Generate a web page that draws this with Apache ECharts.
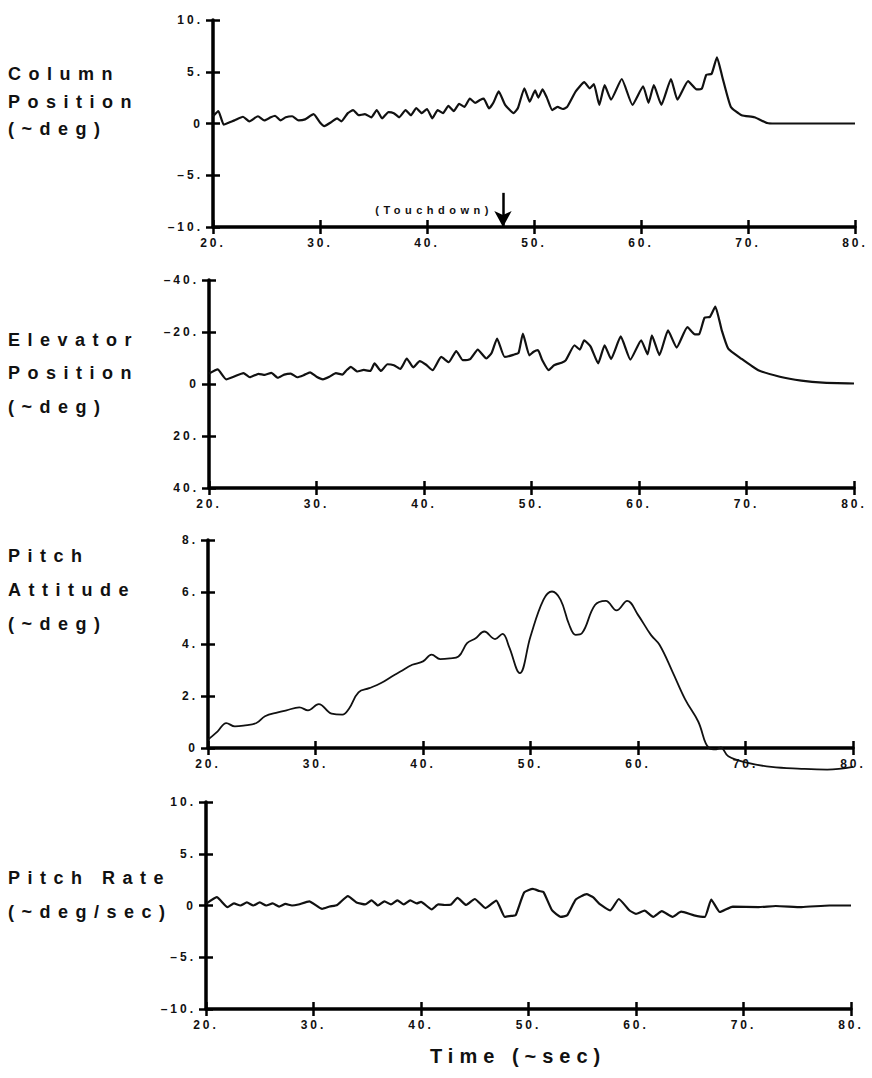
<!DOCTYPE html>
<html>
<head>
<meta charset="utf-8">
<script src="https://cdn.jsdelivr.net/npm/echarts@6/dist/echarts.min.js"></script>
<style>
html, body { margin: 0; padding: 0; background: #fff; }
#main { width: 872px; height: 1078px; }
#main text { letter-spacing: 3px; }
#main text[style*="18px"] { letter-spacing: 7.5px; }
#main text[style*="20px"] { letter-spacing: 6px; }
#main text[style*="11px"] { letter-spacing: 4.5px; }
</style>
</head>
<body>
<div id="main"></div>
<script>
// time axis
const xTicks = [20, 30, 40, 50, 60, 70, 80];
const xTickLabels = ['20.', '30.', '40.', '50.', '60.', '70.', '80.'];

// y tick values / labels per panel
const colTicks = [-10, -5, 0, 5, 10];
const colTickLabels = ['–10.', '–5.', '0', '5.', '10.'];
const elevTicks = [-40, -20, 0, 20, 40];
const elevTickLabels = ['–40.', '–20.', '0', '20.', '40.'];
const attTicks = [0, 2, 4, 6, 8];
const attTickLabels = ['0', '2.', '4.', '6.', '8.'];
const rateTicks = [-10, -5, 0, 5, 10];
const rateTickLabels = ['–10.', '–5.', '0', '5.', '10.'];

// [time sec, value]
const columnPos = [[20,0.7],[20.5,1.2],[21,-0.1],[21.5,0.1],[22,0.3],[22.8,0.65],[23.4,0.2],[24.2,0.7],[24.8,0.3],[25.4,0.6],[25.8,0.75],[26.3,0.3],[26.8,0.6],[27.4,0.7],[28,0.3],[28.6,0.4],[29.4,0.9],[30,0.1],[30.4,-0.25],[31,0.1],[31.6,0.5],[32,0.2],[32.6,1.0],[33.1,1.3],[33.6,0.8],[34.2,0.9],[34.8,0.6],[35.3,1.3],[35.8,0.5],[36.4,1.1],[36.9,1.0],[37.4,0.6],[38,1.3],[38.5,0.8],[39,1.5],[39.5,1.0],[40,1.4],[40.5,0.5],[41,1.3],[41.5,1.0],[42,1.7],[42.5,1.2],[43,1.9],[43.5,1.6],[44,2.4],[44.5,2.0],[45,2.3],[45.3,2.4],[45.8,1.45],[46.2,2.0],[46.7,3.1],[47.3,1.8],[48.1,1.0],[48.5,1.5],[49.1,3.4],[49.6,2.1],[50.1,3.2],[50.4,2.5],[50.8,3.3],[51.2,2.5],[51.7,1.3],[52.2,1.6],[52.7,1.4],[53.1,1.6],[53.9,3.1],[54.7,4.0],[55.2,3.4],[55.6,3.8],[56.1,1.8],[56.6,3.7],[57.2,2.3],[58.2,4.3],[59.2,1.8],[60.2,3.6],[60.7,2.0],[61.2,3.7],[61.9,1.8],[62.8,4.3],[63.4,2.3],[64.4,4.1],[65.2,3.3],[65.7,3.4],[66.1,4.7],[66.6,4.8],[67.1,6.4],[67.6,4.5],[68.4,1.6],[69.4,0.8],[70.6,0.6],[71.8,0.05],[72.5,0],[80,0]];

const elevatorPos = [[20,-4],[20.8,-5.6],[21.6,-1.8],[22.4,-3.0],[23.2,-4.2],[23.8,-2.6],[24.6,-3.9],[25.2,-3.5],[25.8,-4.3],[26.4,-2.4],[27,-3.6],[27.6,-4.0],[28.2,-2.6],[28.8,-3.4],[29.4,-4.5],[30,-2.8],[30.6,-1.8],[31.2,-2.8],[31.8,-4.2],[32.4,-3.6],[32.8,-5.3],[33.2,-6.6],[33.8,-4.8],[34.4,-5.4],[35,-5.0],[35.4,-7.9],[36,-5.0],[36.6,-7.6],[37.2,-7.2],[37.8,-5.8],[38.4,-9.8],[39,-6.4],[39.6,-8.8],[40.2,-7.4],[40.8,-5.3],[41.6,-10.4],[42.3,-8.4],[43,-12.7],[43.6,-9.2],[44.3,-9.6],[45,-13.2],[45.8,-9.8],[46.3,-12],[46.8,-17.5],[47.5,-10.4],[48.3,-11.2],[48.8,-12.0],[49.2,-19.4],[49.8,-11],[50.2,-12.4],[50.6,-13],[51,-9.2],[51.6,-5.3],[52.1,-7.2],[52.8,-8.2],[53.2,-9.2],[54,-14.9],[54.5,-13.2],[54.9,-16.8],[55.5,-14.4],[56.2,-7.9],[56.8,-14.9],[57.4,-9.6],[58.3,-18.3],[59.2,-9.4],[60.2,-16.8],[60.8,-11.4],[61.2,-18.7],[61.9,-11.1],[62.7,-20.6],[63.5,-14],[64.5,-21.9],[65.2,-19.1],[65.6,-19.2],[66.1,-25.5],[66.6,-25.8],[67.1,-29.8],[67.7,-20.6],[68.3,-13.6],[69.5,-9.8],[71.1,-5.3],[73.1,-2.8],[75.1,-1.3],[77.1,-0.5],[80,-0.2]];

const pitchAtt = [[20,0.32],[20.9,0.64],[21.7,0.96],[22.5,0.83],[23.3,0.86],[24.5,0.96],[25.3,1.22],[26.5,1.37],[27.3,1.45],[28.5,1.56],[29.3,1.45],[30.3,1.69],[31.5,1.32],[32.5,1.28],[33.1,1.5],[34,2.14],[35,2.3],[36.1,2.5],[37.1,2.75],[37.9,2.94],[39,3.2],[40,3.33],[40.8,3.59],[41.6,3.42],[42.5,3.45],[43.3,3.52],[44.1,4.03],[44.9,4.22],[45.7,4.48],[46.7,4.19],[47.4,4.39],[48,3.9],[49,2.88],[50,4.29],[51.2,5.7],[52,6.02],[52.8,5.7],[53.6,4.74],[54.2,4.35],[54.8,4.42],[56,5.5],[57,5.66],[58,5.29],[59,5.66],[60,5.12],[61.2,4.35],[62,3.97],[63.2,2.94],[64.4,1.86],[65.6,1.02],[66.6,0],[67.3,-0.05],[67.7,0.02],[68.4,-0.32],[70,-0.55],[72.4,-0.73],[75.2,-0.8],[77.6,-0.83],[80,-0.73]];

const pitchRate = [[20,0.15],[21,0.8],[22,-0.16],[22.6,0.2],[23.2,0],[23.8,0.3],[24.4,0],[25,0.3],[25.6,0],[26.2,0.2],[26.8,-0.1],[27.4,0.15],[28,0],[28.6,0.1],[29.6,0.4],[30.8,-0.32],[31.5,-0.1],[32.2,0.05],[33.2,0.9],[34,0.3],[34.8,0.1],[35.4,0.5],[36,0],[36.6,0.4],[37.2,0.1],[37.8,0.5],[38.4,0.1],[39,0.5],[39.6,0.2],[40,0.35],[41,-0.38],[41.6,0.1],[42.2,0.05],[42.8,0.1],[43.4,0.73],[44.2,0.05],[45,0.63],[46,-0.25],[47,0.48],[47.8,-1.1],[48.4,-1.0],[48.8,-0.95],[49.6,1.27],[50.4,1.6],[51,1.4],[51.4,1.3],[52.2,-0.48],[53,-1.1],[53.6,-0.95],[54.4,0.57],[55.4,1.1],[56,0.8],[56.6,0.15],[57.6,-0.48],[58.4,0.63],[59.4,-0.48],[60,-0.8],[60.8,-0.5],[61.6,-1.1],[62.4,-0.55],[63.4,-1.1],[64.2,-0.6],[65.4,-0.95],[66.4,-1.1],[67,0.57],[67.8,-0.63],[69,-0.1],[71.4,-0.15],[73,-0.05],[75.4,-0.15],[78,0],[80,0]];

const touchdownTime = 47.1;

const FONT = '"Liberation Sans", Arial, sans-serif';

const panels = [
    { grid: {left: 213, top: 20, width: 642, height: 207}, min: -10, max: 10, step: 5, ticks: colTicks, labels: colTickLabels, data: columnPos, title: ['Column', 'Position', '(~deg)'], titleY: [75, 103, 130] },
    { grid: {left: 209, top: 280, width: 645, height: 208}, min: -40, max: 40, step: 20, inverse: true, ticks: elevTicks, labels: elevTickLabels, data: elevatorPos, title: ['Elevator', 'Position', '(~deg)'], titleY: [341, 374, 408] },
    { grid: {left: 208, top: 540, width: 645, height: 208}, min: 0, max: 8, step: 2, ticks: attTicks, labels: attTickLabels, data: pitchAtt, title: ['Pitch', 'Attitude', '(~deg)'], titleY: [557, 591, 625], smooth: 0.4, width: 1.8 },
    { grid: {left: 206, top: 802, width: 645, height: 207}, min: -10, max: 10, step: 5, ticks: rateTicks, labels: rateTickLabels, data: pitchRate, title: ['Pitch Rate', '(~deg/sec)'], titleY: [879, 913] },
];

function axisLine() { return { show: true, onZero: false, lineStyle: { color: '#000', width: 3.5 } }; }
function ticks(inside) { return { show: true, inside: inside, length: 7, lineStyle: { color: '#000', width: 2.5 } }; }
function labels(fmt) {
    return { show: true, fontSize: 12, fontWeight: 'bold', fontFamily: FONT, color: '#111', margin: 10, formatter: fmt };
}

let grids = [], xAxes = [], yAxes = [], series = [], graphics = [];

panels.forEach((p, i) => {
    grids.push(p.grid);
    // main axes: line, outer ticks, labels
    xAxes.push({
        gridIndex: i, type: 'value', position: 'bottom', min: 20, max: 80, interval: 10,
        axisLine: axisLine(),
        axisTick: ticks(false),
        axisLabel: labels((v) => xTickLabels[xTicks.indexOf(v)]),
        splitLine: { show: false },
    });
    // same axis again, inner ticks only, so ticks cross the line
    xAxes.push({
        gridIndex: i, type: 'value', position: 'bottom', min: 20, max: 80, interval: 10,
        axisLine: { show: false, onZero: false },
        axisTick: ticks(true),
        axisLabel: { show: false },
        splitLine: { show: false },
    });
    yAxes.push({
        gridIndex: i, type: 'value', position: 'left', min: p.min, max: p.max, interval: p.step, inverse: !!p.inverse,
        axisLine: axisLine(),
        axisTick: ticks(false),
        axisLabel: labels((v) => p.labels[p.ticks.indexOf(v)]),
        splitLine: { show: false },
    });
    yAxes.push({
        gridIndex: i, type: 'value', position: 'left', min: p.min, max: p.max, interval: p.step, inverse: !!p.inverse,
        axisLine: { show: false, onZero: false },
        axisTick: ticks(true),
        axisLabel: { show: false },
        splitLine: { show: false },
    });
    let s = {
        type: 'line',
        xAxisIndex: i * 2,
        yAxisIndex: i * 2,
        data: p.data,
        showSymbol: false,
        smooth: p.smooth || 0.15,
        clip: false,
        lineStyle: { color: '#111', width: p.width || 2.2 },
        animation: false,
    };
    if (i === 0) {
        s.markLine = {
            silent: true,
            symbol: ['none', 'arrow'],
            symbolSize: [13, 16],
            lineStyle: { color: '#000', width: 2.5, type: 'solid' },
            label: { show: false },
            data: [[{ coord: [touchdownTime, -6.7] }, { coord: [touchdownTime, -10] }]],
        };
    }
    series.push(s);

    p.title.forEach((t, k) => {
        graphics.push({
            type: 'text', id: 'title' + i + '_' + k, left: 8, top: p.titleY[k] - 10,
            style: { text: t, fontSize: 18, fontWeight: 'bold', fontFamily: FONT, fill: '#111' },
        });
    });
});

graphics.push({
    type: 'text', id: 'xname', left: 430, top: 1046,
    style: { text: 'Time (~sec)', fontSize: 20, fontWeight: 'bold', fontFamily: FONT, fill: '#111' },
});

const myChart = echarts.init(document.getElementById('main'), null, { renderer: 'svg' });
myChart.setOption({
    backgroundColor: '#fff',
    animation: false,
    grid: grids,
    xAxis: xAxes,
    yAxis: yAxes,
    series: series,
    graphic: graphics,
});

// place the touchdown note next to the arrow
const pt = myChart.convertToPixel({ xAxisIndex: 0, yAxisIndex: 0 }, [touchdownTime, -8.4]);
myChart.setOption({
    graphic: [{
        type: 'text', id: 'touchdown', x: pt[0] - 10, y: pt[1],
        style: { text: '(Touchdown)', fontSize: 11, fontWeight: 'bold', fontFamily: FONT, fill: '#111', align: 'right', verticalAlign: 'middle' },
    }],
});
</script>
</body>
</html>
